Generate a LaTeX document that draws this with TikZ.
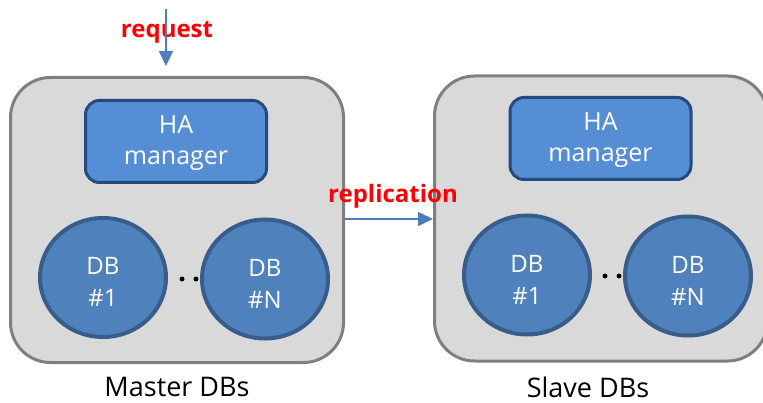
\documentclass[tikz,border=0pt]{standalone}
\usepackage{fontspec}
\setmainfont{Open Sans}
\usetikzlibrary{shapes.geometric,arrows.meta}
\definecolor{boxfill}{HTML}{D9D9D9}
\definecolor{boxline}{HTML}{7F7F7F}
\definecolor{hafill}{HTML}{558ED5}
\definecolor{haline}{HTML}{254B7E}
\definecolor{dbfill}{HTML}{4F81BD}
\definecolor{dbline}{HTML}{385D8A}
\definecolor{arrowblue}{HTML}{4A7EBB}
\begin{document}
\begin{tikzpicture}[x=1pt,y=-1pt,
  outerbox/.style={draw=boxline,fill=boxfill,line width=3pt,rounded corners=40pt,minimum width=333pt,minimum height=285pt,inner sep=0pt},
  habox/.style={draw=haline,fill=hafill,line width=3pt,rounded corners=14pt,minimum width=181pt,minimum height=82pt,inner sep=0pt},
  hatext/.style={text=white,font=\fontsize{25}{31}\selectfont,align=center,inner sep=0pt},
  dbnode/.style={ellipse,draw=dbline,fill=dbfill,line width=4pt,minimum width=126pt,minimum height=119pt,inner sep=0pt},
  dbtext/.style={text=white,font=\fontsize{24}{32}\selectfont,align=center,inner sep=0pt},
  dotnode/.style={circle,fill=black,minimum size=5pt,inner sep=0pt},
  redlabel/.style={text=red,font=\fontsize{24}{28}\selectfont\bfseries,inner sep=0pt},
  caption/.style={text=black,font=\fontsize{27}{32}\selectfont,inner sep=0pt},
  flow/.style={draw=arrowblue,line width=1.5pt,-{Triangle[width=14pt,length=15pt]}}]
\useasboundingbox (0,0) rectangle (763,403);
% boxes
\node[outerbox] (mbox) at (177,220) {};
\node[outerbox] (sbox) at (601,218.5) {};
\node[habox] (mha) at (176,141.5) {};
\node[habox] (sha) at (600.5,138.5) {};
\node[hatext] (mhat) at (176,143) {HA\\manager};
\node[hatext] (shat) at (600.5,140) {HA\\manager};
\node[dbnode] (mdb1) at (103,277.5) {};
\node[dbnode] (mdbn) at (265,279) {};
\node[dbnode] (sdb1) at (527,275) {};
\node[dbnode] (sdbn) at (688,276) {};
\node[dbtext] (mdb1t) at (103,282) {DB\\\#1};
\node[dbtext] (mdbnt) at (265,283.5) {DB\\\#N};
\node[dbtext] (sdb1t) at (527,279.5) {DB\\\#1};
\node[dbtext] (sdbnt) at (688,280.5) {DB\\\#N};
\node[dotnode] (md1) at (182,279) {};
\node[dotnode] (md2) at (196,279) {};
\node[dotnode] (sd1) at (605,276) {};
\node[dotnode] (sd2) at (619,276) {};
% labels
\node[redlabel] (req) at (167,32) {request};
\node[redlabel] (rep) at (393,196) {replication};
\node[caption] (mcap) at (177,387) {Master DBs};
\node[caption] (scap) at (588,387) {Slave DBs};
% arrows
\coordinate (reqtop) at (166,9);
\coordinate (reqend) at (166,66);
\draw[flow] (reqtop) -- (reqend);
\draw[flow] (mbox.east |- 0,219) -- (sbox.west |- 0,219);
\end{tikzpicture}
\end{document}
